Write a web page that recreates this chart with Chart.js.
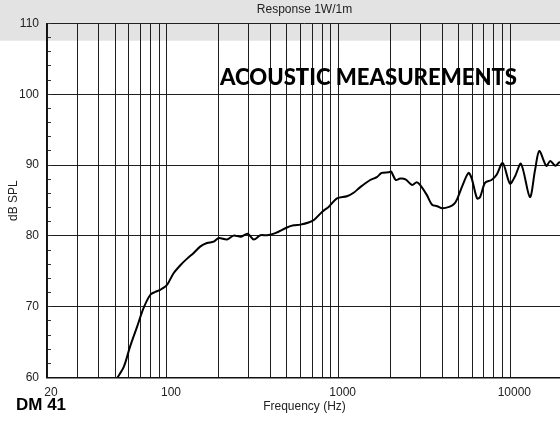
<!DOCTYPE html>
<html>
<head>
<meta charset="utf-8">
<script src="https://cdn.jsdelivr.net/npm/chart.js@4.4.1/dist/chart.umd.min.js"></script>
<style>
  html, body { margin: 0; padding: 0; overflow: hidden; background: #fff; }
  #wrap { width: 562px; height: 423px; }
</style>
</head>
<body>
<div id="wrap"><canvas id="graf" width="562" height="423"></canvas></div>
<script>
const graf = document.getElementById('graf')

// frequency response
const freqs = [51.5, 56, 61, 67, 73, 80, 85.5, 91.4, 100, 109, 120, 131, 143, 156, 171, 187, 200, 224, 244, 270,
  295, 320, 350, 383, 428, 500, 547, 598, 668, 721, 800, 874, 978, 1117, 1222, 1336, 1527, 1670, 1780, 1960,
  2020, 2150, 2280, 2450, 2680, 2850, 2980, 3260, 3500, 3750, 4020, 4400, 4700, 4900, 5240, 5700, 5960, 6400, 6670, 7120,
  7770, 8300, 9030, 9950, 10640, 11540, 13000, 13930, 14750, 16200, 17100, 18300, 19300, 20000]
const spl = [60, 61.5, 64.4, 67.2, 69.8, 71.7, 72.1, 72.4, 73.1, 74.7, 75.9, 76.8, 77.6, 78.5, 79.0, 79.2, 79.7, 79.5, 80.05, 79.9,
  80.3, 79.5, 80.1, 80.1, 80.4, 81.2, 81.5, 81.6, 81.9, 82.3, 83.4, 84.1, 85.3, 85.6, 86.1, 86.9, 87.9, 88.3, 88.9, 89.0,
  89.1, 87.9, 88.1, 88.0, 87.2, 87.6, 87.2, 85.8, 84.4, 84.2, 83.9, 84.1, 84.5, 85.2, 87.0, 88.9, 88.1, 85.3, 85.5, 87.5,
  87.9, 88.6, 90.3, 87.4, 88.4, 90.2, 85.5, 89.3, 92.0, 89.9, 90.6, 89.9, 90.4, 90.2]

// grid lines on the x axis and which of them get a label
const xGrid = [20, 30, 40, 50, 60, 70, 80, 90, 100, 200, 300, 400, 500, 600, 700, 800, 900,
  1000, 2000, 3000, 4000, 5000, 6000, 7000, 8000, 9000, 10000, 20000]
const xLabels = [20, 100, 1000, 10000]
const yMajor = [60, 70, 80, 90, 100, 110]

const topText = 'Response 1W/1m'
const bigTitle = 'ACOUSTIC MEASUREMENTS'
const model = 'DM 41'

const pontos = freqs.map((f, i) => ({ x: f, y: spl[i] }))

Chart.defaults.font.family = '"Liberation Sans", Arial, sans-serif'
Chart.defaults.font.size = 12
Chart.defaults.color = '#222'

const decor = {
    id: 'decor',
    beforeDraw(chart) {
        const { ctx, chartArea } = chart
        ctx.save()
        ctx.fillStyle = '#fff'
        ctx.fillRect(0, 0, chart.width, chart.height)
        ctx.fillStyle = '#e3e3e3'
        ctx.fillRect(0, 0, chart.width, 40.7)
        ctx.fillStyle = '#222'
        ctx.font = '12px "Liberation Sans", Arial, sans-serif'
        ctx.textAlign = 'center'
        ctx.textBaseline = 'middle'
        ctx.fillText(topText, (chartArea.left + chartArea.right) / 2, 9.5)
        ctx.restore()
    },
    afterDraw(chart) {
        const { ctx } = chart
        ctx.save()
        ctx.fillStyle = '#000'
        ctx.textBaseline = 'alphabetic'
        ctx.textAlign = 'left'
        ctx.font = '900 20px Lato, "Liberation Sans", sans-serif'
        const w = ctx.measureText(bigTitle).width
        const size = 20 * 297 / w
        ctx.font = '900 ' + size.toFixed(2) + 'px Lato, "Liberation Sans", sans-serif'
        ctx.fillText(bigTitle, 220, 85)
        ctx.font = 'bold 17px "Liberation Sans", Arial, sans-serif'
        ctx.fillText(model, 16, 410)
        ctx.restore()
    }
}

new Chart(graf, {
    type: 'line',
    data: {
        datasets: [{
            data: pontos,
            borderColor: '#000',
            borderWidth: 2,
            pointRadius: 0,
            tension: 0.3,
            fill: false
        }]
    },
    options: {
        responsive: false,
        animation: false,
        layout: { padding: { top: 23.5, left: 0, right: 0, bottom: 0 } },
        plugins: {
            legend: { display: false },
            tooltip: { enabled: false }
        },
        scales: {
            x: {
                type: 'logarithmic',
                min: 20,
                max: 20000,
                afterFit: s => {
                    s.height = 45.4
                    s.paddingLeft = 0
                    s.paddingRight = 0
                },
                afterBuildTicks: s => { s.ticks = xGrid.map(v => ({ value: v })) },
                grid: { color: '#1e1e1e', lineWidth: 1, drawTicks: false },
                border: { color: '#111', width: 1.5 },
                ticks: {
                    autoSkip: false,
                    maxRotation: 0,
                    padding: 8,
                    labelOffset: 4,
                    callback: v => xLabels.includes(v) ? String(v) : ''
                },
                title: {
                    display: true,
                    text: 'Frequency (Hz)',
                    font: { size: 12 },
                    padding: { top: 0, bottom: 9 }
                }
            },
            y: {
                min: 60,
                max: 110,
                afterFit: s => { s.width = 47 },
                grid: {
                    color: c => yMajor.includes(c.tick.value) ? '#1e1e1e' : 'rgba(0,0,0,0)',
                    tickColor: '#333',
                    tickLength: -4,
                    lineWidth: 1
                },
                border: { color: '#111', width: 1.5 },
                ticks: {
                    stepSize: 2,
                    autoSkip: false,
                    padding: 12,
                    callback: v => yMajor.includes(v) ? String(v) : ''
                },
                title: {
                    display: true,
                    text: 'dB SPL',
                    font: { size: 12 },
                    padding: { top: 6, bottom: 0 }
                }
            }
        }
    },
    plugins: [decor]
})
</script>
</body>
</html>
